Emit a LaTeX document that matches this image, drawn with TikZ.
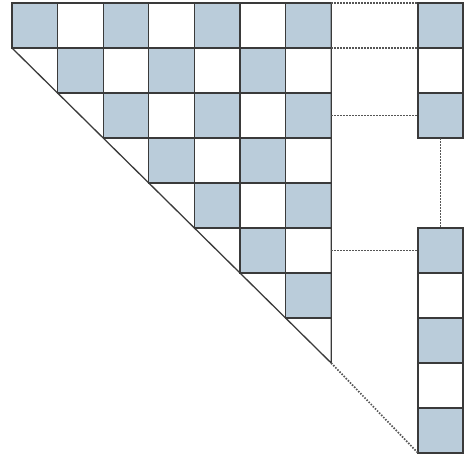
\documentclass[tikz,border=0pt]{standalone}
\definecolor{cellblue}{HTML}{BACCDA}
\definecolor{linegray}{HTML}{3A3A3A}
\definecolor{dotgray}{HTML}{555555}
\begin{document}
\begin{tikzpicture}[x=1pt,y=-1pt,
  gridline/.style={draw=linegray, line width=1.3pt},
  shaded/.style={fill=cellblue},
  dotline/.style={draw=dotgray, line width=1.7pt, dash pattern=on 1.5pt off 1.5pt}]
\useasboundingbox (0,0) rectangle (465,459);
\def\sx{45.6}
\def\sy{45}
% triangular checkerboard
\foreach \r in {0,...,6}{
  \foreach \c in {\r,...,6}{
    \pgfmathtruncatemacro{\myparity}{mod(\r+\c,2)}
    \ifnum\myparity=0
      \fill[shaded] ({12+\c*\sx},{3+\r*\sy}) rectangle ++(\sx,\sy);
    \fi
    \draw[gridline] ({12+\c*\sx},{3+\r*\sy}) rectangle ++(\sx,\sy);
  }
}
\coordinate (tl) at (12,3);
\coordinate (tr) at ({12+7*\sx},3);
\coordinate (dstart) at (12,{3+\sy});
\coordinate (apex) at ({12+7*\sx},{3+8*\sy});
\draw[gridline, line join=miter] (dstart) -- (apex) -- (tr);
% right column, upper part
\foreach \i in {0,1,2}{
  \pgfmathtruncatemacro{\myparity}{mod(\i,2)}
  \ifnum\myparity=0 \fill[shaded] (418,{3+\i*\sy}) rectangle ++(45,\sy); \fi
  \draw[gridline] (418,{3+\i*\sy}) rectangle ++(45,\sy);
}
% right column, lower part
\foreach \i in {0,...,4}{
  \pgfmathtruncatemacro{\myparity}{mod(\i,2)}
  \ifnum\myparity=0 \fill[shaded] (418,{228+\i*\sy}) rectangle ++(45,\sy); \fi
  \draw[gridline] (418,{228+\i*\sy}) rectangle ++(45,\sy);
}
\coordinate (u0) at (418,3);
\coordinate (u1) at (418,48);
\coordinate (u2) at (418,115.5);
\coordinate (ub) at (440.5,138);
\coordinate (lt) at (440.5,228);
\coordinate (l0) at (418,250.5);
\coordinate (lb) at (418,453);
\coordinate (g0) at ({12+7*\sx},3);
\coordinate (g1) at ({12+7*\sx},48);
\coordinate (g2) at ({12+7*\sx},115.5);
\coordinate (g5) at ({12+7*\sx},250.5);
% dotted connectors
\draw[dotline] (g0) -- (u0);
\draw[dotline] (g1) -- (u1);
\draw[dotline] (g2) -- (u2);
\draw[dotline] (g5) -- (l0);
\draw[dotline] (apex) -- (lb);
\draw[dotline] (ub) -- (lt);
\end{tikzpicture}
\end{document}
